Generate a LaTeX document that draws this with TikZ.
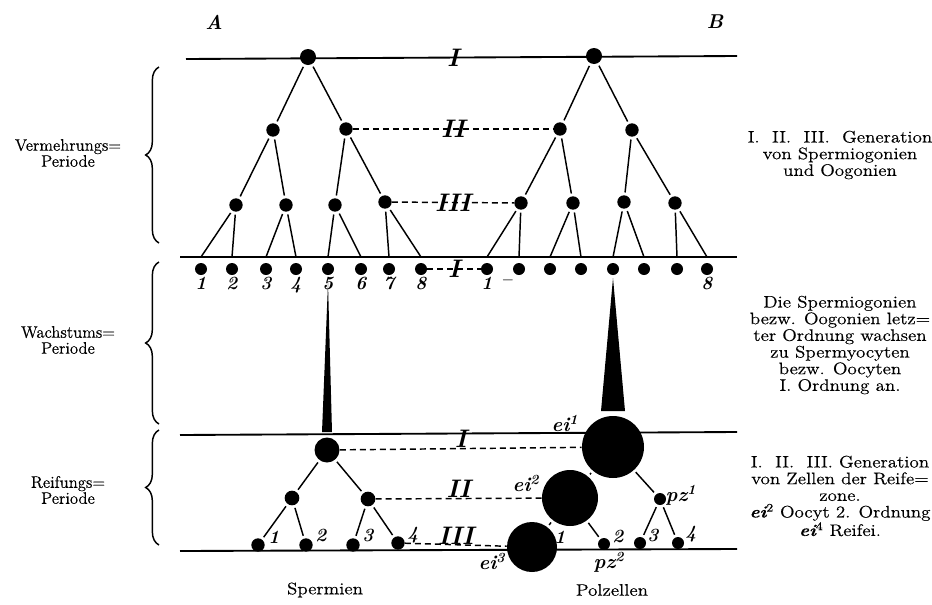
\documentclass[tikz,border=0pt]{standalone}
\usepackage{fontspec}
\setmainfont{Latin Modern Roman}
\newfontfamily\widefont{Latin Modern Roman}[FakeStretch=1.14,FakeBold=0.4]
\newfontfamily\sidefont{Latin Modern Roman}[FakeBold=0.4]
\usetikzlibrary{positioning,calc,decorations.pathreplacing}
\tikzset{
  cell/.style={circle,fill=black,inner sep=0pt,minimum size=#1},
  cell/.default=9pt,
  level/.style={line width=1.4pt},
  gen/.style={line width=1.1pt,shorten <=2pt,shorten >=2pt},
  pair/.style={line width=1.1pt,dash pattern=on 4.5pt off 3pt},
  roman/.style={font=\fontsize{19}{19}\selectfont\bfseries\itshape,inner sep=0pt},
  numlbl/.style={font=\fontsize{14}{14}\selectfont\bfseries\itshape,inner sep=1pt},
  eilbl/.style={font=\fontsize{15}{15}\selectfont\bfseries\itshape,inner sep=0pt},
  note/.style={align=center,font=\fontsize{12.5}{12.5}\selectfont\widefont},
  side/.style={align=center,font=\fontsize{12.5}{12}\selectfont\sidefont},
  period/.style={line width=1.1pt,decorate,decoration={brace,amplitude=10pt}},
}

\begin{document}
\begin{tikzpicture}[x=0.75pt,y=-0.75pt]
  \useasboundingbox (0,0) rectangle (932,604);

  % A und B
  \node[eilbl] at (214,22) {A};
  \node[eilbl] at (715,22) {B};

  % Linien der Perioden
  \coordinate (mid) at (180,257);
  \draw[level] (186,59) -- (737,56);
  \draw[level] (mid) -- (737,257);
  \draw[level] (180,435) -- (737,432);
  \draw[level] (180,551) -- (737,549);

  % Vermehrungsperiode
  \node[cell=12pt] (a0) at (308,57) {};
  \node[cell=12pt] (b0) at (594,56) {};
  \node[cell=10pt] (a1) at (273,130) {};
  \node[cell=10pt] (a2) at (346,129) {};
  \node[cell=10pt] (b1) at (560,129) {};
  \node[cell=10pt] (b2) at (632,130) {};
  \node[cell=10pt] (a11) at (236,205) {};
  \node[cell=10pt] (a12) at (286,205) {};
  \node[cell=10pt] (a21) at (335,205) {};
  \node[cell=10pt] (a22) at (385,202) {};
  \node[cell=10pt] (b11) at (521,203) {};
  \node[cell=10pt] (b12) at (573,203) {};
  \node[cell=10pt] (b21) at (624,202) {};
  \node[cell=10pt] (b22) at (675,203) {};
  \foreach \x [count=\i] in {201,232,266,296,328,361,389,421}
    \node[cell] (s\i) at (\x,269) {};
  \foreach \x [count=\i] in {487,519,550,581,613,644,677,707}
    \node[cell] (o\i) at (\x,269) {};
  \foreach \i in {1,...,8}
    \node[numlbl,below=0pt of s\i] {\i};
  \node[numlbl,below=0pt of o1] (o1n) {1};
  \node[numlbl,right=4pt of o1n] {--};
  \node[numlbl,below=0pt of o8] {8};

  \foreach \p/\c in {a0/a1,a0/a2,b0/b1,b0/b2,a1/a11,a1/a12,a2/a21,a2/a22,
                     b1/b11,b1/b12,b2/b21,b2/b22}
    \draw[gen] (\p) -- (\c);
  \foreach \p/\c in {a11/s1,a11/s2,a12/s3,a12/s4,a21/s5,a21/s6,a22/s7,a22/s8,
                     b11/o1,b11/o2,b12/o3,b12/o4,b21/o5,b21/o6,b22/o7,b22/o8}
    \draw[gen,shorten >=0pt] (\p) -- (\c |- mid);

  \node[roman] at (453,58) {I};
  \draw[pair] (a2) -- node[roman]{II} (b1);
  \draw[pair] (a22) -- node[roman]{III} (b11);
  \draw[pair] (s8) -- node[roman]{I} (o1);

  % Reifungsperiode
  \node[cell=18.75pt] (r0) at (327,450) {};
  \node[cell=46.5pt]  (e1) at (613,447) {};
  \node[cell=11pt] (q1) at (292,498) {};
  \node[cell=11pt] (q2) at (368,499) {};
  \node[cell=42pt] (e2) at (570,498) {};
  \node[cell] (z1) at (660,499) {};
  \node[cell=10pt] (p1) at (258,545) {};
  \node[cell=10pt] (p2) at (306,545) {};
  \node[cell=10pt] (p3) at (353,545) {};
  \node[cell=10pt] (p4) at (398,543) {};
  \node[cell=37.5pt] (e3) at (532,547) {};
  \node[cell] (z2) at (604,544) {};
  \node[cell] (z3) at (640,543) {};
  \node[cell] (z4) at (678,543) {};

  \foreach \p/\c in {r0/q1,r0/q2,q1/p1,q1/p2,q2/p3,q2/p4,
                     e1/e2,e1/z1,e2/e3,e2/z2,z1/z3,z1/z4}
    \draw[gen] (\p) -- (\c);

  \draw[pair] (r0) -- node[roman,above=0pt]{I} (e1);
  \draw[pair] (q2) -- node[roman,above=0pt]{II} (e2);
  \draw[pair] (p4) -- node[roman,above=0pt]{III} (e3);

  % Wachstumsperiode
  \fill ($(s5)+(0,14)$) -- ($(r0)+(5,-18)$) -- ($(r0)+(-5,-18)$) -- cycle;
  \fill ($(o5)+(0,9)$) -- ($(e1)+(12,-36)$) -- ($(e1)+(-12,-36)$) -- cycle;

  \node[eilbl] at (565,423) {ei\textsuperscript{1}};
  \node[eilbl] at (526,483) {ei\textsuperscript{2}};
  \node[eilbl] at (492,561) {ei\textsuperscript{3}};
  \node[eilbl] at (681,495) {pz\textsuperscript{1}};
  \node[eilbl] at (609,562) {pz\textsuperscript{2}};
  \node[numlbl] at (274,537) {1};
  \node[numlbl] at (321,535) {2};
  \node[numlbl] at (368,535) {3};
  \node[numlbl] at (413,535) {4};
  \node[numlbl] at (560,537) {1};
  \node[numlbl] at (618,536) {2};
  \node[numlbl] at (653,535) {3};
  \node[numlbl] at (691,534) {4};

  % Klammern und Texte
  \draw[period] (159,243) -- (159,67);
  \draw[period] (159,424) -- (159,262);
  \draw[period] (159,545) -- (159,430);
  \node[side] at (68,153) {Vermehrungs=\\Periode};
  \node[side] at (68,340) {Wachstums=\\Periode};
  \node[side] at (68,490) {Reifungs=\\Periode};

  \node[note] at (840,155) {I.\ \ II.\ \ III.\ \ Generation\\von Spermiogonien\\und Oogonien};
  \node[note] at (840,345) {Die Spermiogonien\\bezw. Oogonien letz=\\ter Ordnung wachsen\\
    zu Spermyocyten\\bezw. Oocyten\\I. Ordnung an.};
  \node[note] at (840,496) {I.\ \ II.\ \ III.\ Generation\\von Zellen der Reife=\\zone.\\
    {\bfseries\itshape ei}\textsuperscript{2} Oocyt 2. Ordnung\\
    {\bfseries\itshape ei}\textsuperscript{4} Reifei.};

  \node[note] at (325,590) {Spermien};
  \node[note] at (612,590) {Polzellen};
\end{tikzpicture}
\end{document}
